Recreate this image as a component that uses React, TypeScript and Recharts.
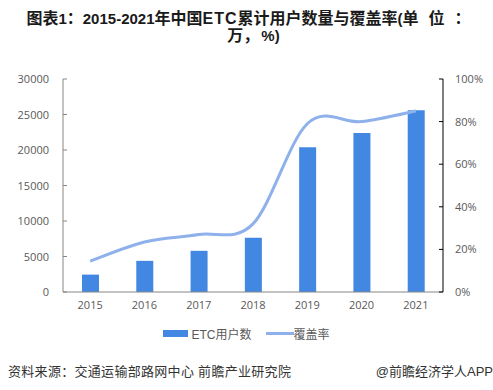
import { ComposedChart, Bar, Line, XAxis, YAxis } from "recharts";

const years = ["2015", "2016", "2017", "2018", "2019", "2020", "2021"];
const etcUsers = [2450, 4390, 5800, 7650, 20400, 22400, 25600];
const coverage = [14.5, 23.5, 27, 32, 79, 80, 85];
const leftTicks = [0, 5000, 10000, 15000, 20000, 25000, 30000];
const rightTicks = [0, 20, 40, 60, 80, 100];

const data = years.map((year, i) => ({
  year,
  users: etcUsers[i],
  rate: coverage[i],
}));

const BAR = "#4287e2";
const LINE = "#8eb1ec";
const TICK_FONT = "'Open Sans', 'Noto Sans CJK SC', sans-serif";
const CJK_FONT = "'Liberation Sans', 'Noto Sans CJK SC', sans-serif";
const NARROW = "'Liberation Sans Narrow', 'Liberation Sans', sans-serif";

// Excel-like smoothed line (cardinal spline through every point)
// eslint-disable-next-line @typescript-eslint/no-explicit-any
const smoothCurve = (context: any) => {
  let pts: [number, number][] = [];
  return {
    areaStart() {},
    areaEnd() {},
    lineStart() {
      pts = [];
    },
    point(x: number, y: number) {
      pts.push([+x, +y]);
    },
    lineEnd() {
      if (!pts.length) return;
      context.moveTo(pts[0][0], pts[0][1]);
      for (let i = 0; i < pts.length - 1; i++) {
        const p0 = pts[i - 1] || pts[i];
        const p1 = pts[i];
        const p2 = pts[i + 1];
        const p3 = pts[i + 2] || p2;
        context.bezierCurveTo(
          p1[0] + (p2[0] - p0[0]) / 6,
          p1[1] + (p2[1] - p0[1]) / 6,
          p2[0] - (p3[0] - p1[0]) / 6,
          p2[1] - (p3[1] - p1[1]) / 6,
          p2[0],
          p2[1]
        );
      }
    },
  };
};

// eslint-disable-next-line @typescript-eslint/no-explicit-any
function LeftTick({ x, y, payload }: any) {
  const ax = x + 14;
  return (
    <g>
      <line x1={ax} x2={ax + 4} y1={y} y2={y} stroke="#868686" />
      <text x={x} y={y} dy={4} textAnchor="end" fill="#595959" fontSize={11} fontFamily={TICK_FONT}>
        {payload.value}
      </text>
    </g>
  );
}

// eslint-disable-next-line @typescript-eslint/no-explicit-any
function RightTick({ x, y, payload }: any) {
  const ax = x - 12;
  return (
    <g>
      <line x1={ax - 4} x2={ax} y1={y} y2={y} stroke="#000" />
      <text x={x} y={y} dy={4} textAnchor="start" fill="#595959" fontSize={11} fontFamily={TICK_FONT}>
        {payload.value}%
      </text>
    </g>
  );
}

const num = { fontSize: 15, fontFamily: NARROW };
const lat = { fontSize: 16, letterSpacing: 1 };
const gap = { display: "inline-block", width: 10 };

export default function App() {
  return (
    <div
      style={{
        position: "absolute",
        left: 0,
        top: 0,
        width: 493,
        height: 390,
        background: "#fff",
        overflow: "hidden",
      }}
    >
      <div
        style={{
          position: "absolute",
          top: 10,
          left: 0,
          width: 493,
          textAlign: "center",
          fontFamily: CJK_FONT,
          fontWeight: "bold",
          fontSize: 16,
          lineHeight: "17px",
          color: "#1a1a1a",
          whiteSpace: "nowrap",
        }}
      >
        <div style={{ paddingLeft: 4 }}>
          图表<span style={num}>1</span>：<span style={num}>2015-2021</span>年中国
          <span style={lat}>ETC</span>累计用户数量与覆盖率
          <span style={num}>(</span>单<span style={gap} />位<span style={gap} />：
        </div>
        <div style={{ paddingLeft: 14 }}>
          万，<span style={{ ...gap, width: 2 }} />
          <span style={num}>%)</span>
        </div>
      </div>

      <div style={{ position: "absolute", left: 0, top: 0 }}>
        <ComposedChart
          width={493}
          height={320}
          data={data}
          margin={{ top: 79, right: 0, bottom: 0, left: 0 }}
        >
          <XAxis
            dataKey="year"
            tickLine={false}
            axisLine={{ stroke: "#868686" }}
            tickSize={0}
            tickMargin={9}
            height={28}
            tick={{ fill: "#595959", fontSize: 11, fontFamily: TICK_FONT }}
          />
          <YAxis
            yAxisId="left"
            orientation="left"
            width={63}
            domain={[0, 30000]}
            ticks={leftTicks}
            tickLine={false}
            tickSize={0}
            tickMargin={14}
            axisLine={{ stroke: "#868686" }}
            tick={<LeftTick />}
          />
          <YAxis
            yAxisId="right"
            orientation="right"
            width={50}
            domain={[0, 100]}
            ticks={rightTicks}
            tickLine={false}
            tickSize={0}
            tickMargin={12}
            axisLine={{ stroke: "#000" }}
            tick={<RightTick />}
          />
          <Bar yAxisId="left" dataKey="users" fill={BAR} barSize={17} isAnimationActive={false} />
          <Line
            yAxisId="right"
            dataKey="rate"
            type={smoothCurve}
            stroke={LINE}
            strokeWidth={3}
            dot={false}
            activeDot={false}
            isAnimationActive={false}
          />
        </ComposedChart>
      </div>

      <div
        style={{
          position: "absolute",
          top: 325,
          left: 0,
          width: 493,
          display: "flex",
          justifyContent: "center",
          alignItems: "center",
          fontFamily: CJK_FONT,
          fontSize: 12,
          color: "#595959",
        }}
      >
        <span style={{ display: "inline-block", width: 25, height: 7, background: BAR, marginRight: 3 }} />
        <span style={{ marginRight: 14 }}>ETC用户数</span>
        <span style={{ display: "inline-block", width: 28, height: 3, background: LINE }} />
        <span>覆盖率</span>
      </div>

      <div
        style={{
          position: "absolute",
          top: 361,
          left: 8,
          fontFamily: CJK_FONT,
          fontSize: 13,
          letterSpacing: 0.3,
          color: "#333",
        }}
      >
        资料来源：交通运输部路网中心 前瞻产业研究院
      </div>
      <div
        style={{
          position: "absolute",
          top: 361,
          right: 0,
          fontFamily: CJK_FONT,
          fontSize: 13,
          color: "#333",
        }}
      >
        @前瞻经济学人APP
      </div>
    </div>
  );
}
